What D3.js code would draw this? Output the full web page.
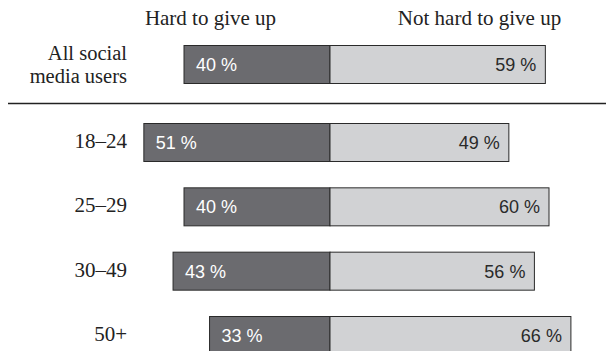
<!DOCTYPE html>
<html><head><meta charset="utf-8">
<script src="https://cdn.jsdelivr.net/npm/d3@7"></script>
<style>body{margin:0;background:#fff}svg{display:block}</style>
</head><body>
<svg id="c" width="606" height="351"></svg>
<script>
const headers = ["Hard to give up", "Not hard to give up"];
const totalLabel = ["All social", "media users"];
const totalHard = 40;
const totalNotHard = 59;
const ageGroups = ["18–24", "25–29", "30–49", "50+"];
const hardValues = [51, 40, 43, 33];
const notHardValues = [49, 60, 56, 66];

const svg = d3.select("#c");
const center = 330;
const x = d3.scaleLinear().domain([0, 100]).range([0, 365]);
const y = d3.scalePoint().domain(ageGroups).range([123, 316]);
const barH = 38;
const dark = "#6b6b6f", light = "#d1d2d4", stroke = "#2a2a2a";
const serif = "'Liberation Serif','Times New Roman',serif";
const sans = "'Liberation Sans',Arial,sans-serif";

svg.append("text").attr("x", 210.5).attr("y", 25).attr("text-anchor", "middle")
  .attr("font-family", serif).attr("font-size", 21).attr("fill", "#222").text(headers[0]);
svg.append("text").attr("x", 479.5).attr("y", 25).attr("text-anchor", "middle")
  .attr("font-family", serif).attr("font-size", 21).attr("fill", "#222").text(headers[1]);

const rows = [{label: null, hard: totalHard, notHard: totalNotHard, y: 45}]
  .concat(ageGroups.map((g, i) => ({label: g, hard: hardValues[i], notHard: notHardValues[i], y: y(g)})));

totalLabel.forEach((t, i) => {
  svg.append("text").attr("x", 127).attr("y", 60 + i * 22.5).attr("text-anchor", "end")
    .attr("font-family", serif).attr("font-size", 20.5).attr("fill", "#222").text(t);
});

svg.append("line").attr("x1", 8).attr("x2", 606).attr("y1", 103.5).attr("y2", 103.5)
  .attr("stroke", "#222").attr("stroke-width", 1.5);

const g = svg.selectAll("g.row").data(rows).join("g").attr("class", "row");
g.append("rect").attr("x", d => center - x(d.hard)).attr("y", d => d.y + 0.5)
  .attr("width", d => x(d.hard)).attr("height", barH)
  .attr("fill", dark).attr("stroke", stroke).attr("stroke-width", 1);
g.append("rect").attr("x", center).attr("y", d => d.y + 0.5)
  .attr("width", d => x(d.notHard)).attr("height", barH)
  .attr("fill", light).attr("stroke", stroke).attr("stroke-width", 1);
g.append("text").attr("x", d => center - x(d.hard) + 12).attr("y", d => d.y + barH / 2 + 7)
  .attr("font-family", sans).attr("font-size", 18).attr("fill", "#fff").text(d => d.hard + " %");
g.append("text").attr("x", d => center + x(d.notHard) - 9).attr("y", d => d.y + barH / 2 + 7)
  .attr("text-anchor", "end")
  .attr("font-family", sans).attr("font-size", 18).attr("fill", "#2a2a2a").text(d => d.notHard + " %");
g.filter(d => d.label).append("text").attr("x", 127).attr("y", d => d.y + 25)
  .attr("text-anchor", "end").attr("font-family", serif).attr("font-size", 21)
  .attr("fill", "#222").text(d => d.label);
</script>
</body></html>
